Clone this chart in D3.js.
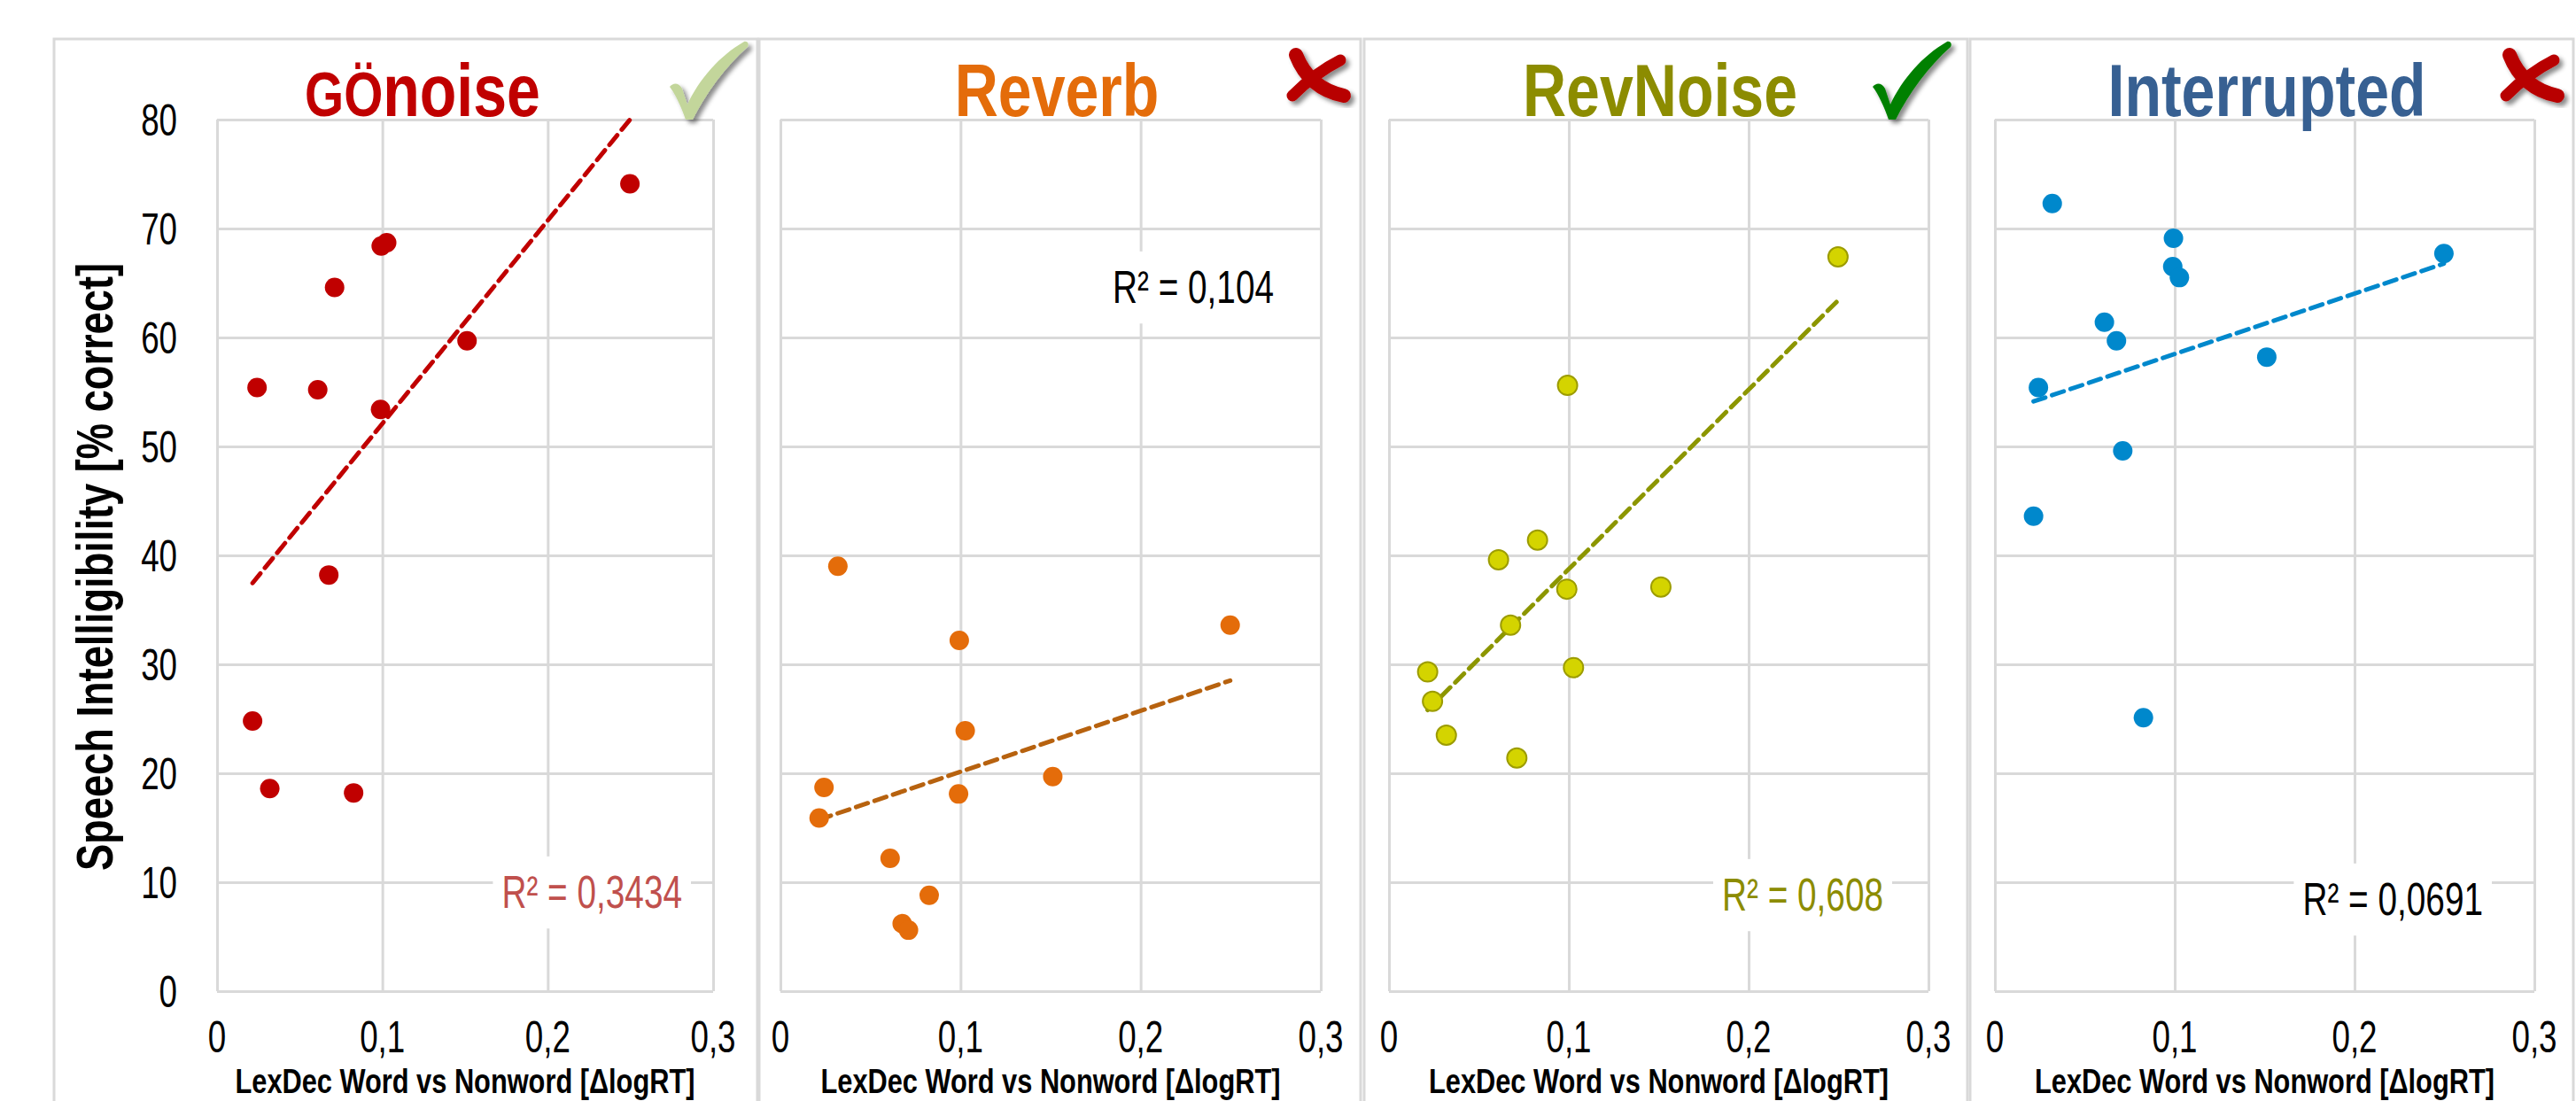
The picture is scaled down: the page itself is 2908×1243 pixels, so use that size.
<!DOCTYPE html>
<html>
<head>
<meta charset="utf-8">
<script src="https://cdn.jsdelivr.net/npm/d3@7"></script>
<style>
  body { margin: 0; background: #fff; }
  svg { display: block; }
  text { font-family: "Liberation Sans", Arial, sans-serif; }
</style>
</head>
<body>
<svg id="chart" width="2908" height="1243"></svg>
<script>
// LexDec Word vs Nonword [ΔlogRT], one value per listener (same in all panels)
var lexDec      = [0.0215, 0.0242, 0.0319, 0.0609, 0.0676, 0.0711, 0.0826, 0.0989, 0.0993, 0.1026, 0.1512, 0.2497];
// speech intelligibility [% correct] per condition, same listener order
var gonoise     = [24.8, 55.4, 18.6, 55.2, 38.2, 64.6, 18.2, 53.4, 68.4, 68.7, 59.7, 74.1];
var reverb      = [15.9, 18.7, 39.0, 12.2,  6.2,  5.6,  8.8, 18.1, 32.2, 23.9, 19.7, 33.6];
var revnoise    = [29.3, 26.6, 23.5, 39.6, 33.6, 21.4, 41.4, 36.9, 55.6, 29.7, 37.1, 67.4];
var interrupted = [43.6, 55.4, 72.3, 61.4, 59.7, 49.6, 25.1, 66.5, 69.1, 65.5, 58.2, 67.7];

var conditions = ["Gönoise", "Reverb", "RevNoise", "Interrupted"];
var seriesList = [gonoise, reverb, revnoise, interrupted];
var r2Labels   = ["R² = 0,3434", "R² = 0,104", "R² = 0,608", "R² = 0,0691"];
var verdicts   = ["yes-weak", "no", "yes", "no"];
var xTicks = [0, 0.1, 0.2, 0.3];
var yTicks = [0, 10, 20, 30, 40, 50, 60, 70, 80];
var xTitle = "LexDec Word vs Nonword [ΔlogRT]";
var yTitle = "Speech Intelligibility [% correct]";

// layout of the four panels (pixels)
var layout = [
  {box: [61, 855],    plot: [245, 805],   top: 135, bottom: 1119, titleX: 477,
   title: "#C00000", dot: "#C00000", dotStroke: "none", trend: "#C00000", r2c: "#C0504D", r2: [770, 1025], mark: [777, 135]},
  {box: [857, 1536],  plot: [881, 1491],  top: 135, bottom: 1119, titleX: 1193,
   title: "#E46C0A", dot: "#E46C0A", dotStroke: "none", trend: "#B7620F", r2c: "#000000", r2: [1438, 342], mark: [1451, 56]},
  {box: [1540, 2221], plot: [1568, 2177], top: 135, bottom: 1119, titleX: 1874,
   title: "#8C8C00", dot: "#D4D400", dotStroke: "#9C9C00", trend: "#8C9600", r2c: "#8C8C00", r2: [2126, 1028], mark: [2135, 135]},
  {box: [2224, 2905], plot: [2252, 2861], top: 135, bottom: 1119, titleX: 2559,
   title: "#376092", dot: "#0088CC", dotStroke: "none", trend: "#0088CC", r2c: "#000000", r2: [2803, 1033], mark: [2821, 56]}
];

var svg = d3.select("#chart");
var defs = svg.append("defs");
defs.append("filter").attr("id", "shadow").attr("x", "-30%").attr("y", "-30%").attr("width", "160%").attr("height", "160%")
  .append("feDropShadow").attr("dx", 4).attr("dy", 4).attr("stdDeviation", 2.5)
  .attr("flood-color", "#000").attr("flood-opacity", 0.45);

var locale = d3.formatLocale({decimal: ",", thousands: ".", grouping: [3], currency: ["", ""]});
var fmtX = locale.format("~g");

// condensed text (the source uses a narrow font)
function ctext(g, x, y, str, size, sx, anchor, weight, color, rot) {
  var t = g.append("text")
    .attr("transform", "translate(" + x + "," + y + ")" + (rot ? " rotate(" + rot + ")" : "") + " scale(" + sx + ",1)")
    .attr("text-anchor", anchor)
    .attr("font-size", size)
    .attr("font-weight", weight || "normal")
    .attr("fill", color || "#000")
    .text(str);
  return t;
}

function fitLine(xs, ys) {
  var mx = d3.mean(xs), my = d3.mean(ys);
  var sxy = d3.sum(xs, function(d, i) { return (d - mx) * (ys[i] - my); });
  var sxx = d3.sum(xs, function(d) { return (d - mx) * (d - mx); });
  var b = sxy / sxx;
  return {slope: b, icpt: my - b * mx};
}

var checkPath = "M-21,-37 C-17,-42 -11,-42 -7,-35 L-1,-17 C12,-45 35,-72 63,-88 C67,-89 69,-85 67,-82 C42,-60 20,-30 5,0 L-3,0 C-8,-14 -14,-28 -21,-37 Z";

layout.forEach(function(L, p) {
  var g = svg.append("g");
  var ys = seriesList[p];

  // panel frame
  g.append("rect").attr("x", L.box[0]).attr("y", 44)
    .attr("width", L.box[1] - L.box[0]).attr("height", 1260)
    .attr("fill", "none").attr("stroke", "#D9D9D9").attr("stroke-width", 3);

  var x = d3.scaleLinear().domain([0, 0.3]).range(L.plot);
  var y = d3.scaleLinear().domain([0, 80]).range([L.bottom, L.top]);

  // grid
  g.append("g").attr("transform", "translate(0," + L.bottom + ")")
    .call(d3.axisBottom(x).tickValues(xTicks).tickSize(-(L.bottom - L.top)).tickFormat(""))
    .call(function(a) { a.select(".domain").remove(); a.selectAll("line").attr("stroke", "#D9D9D9").attr("stroke-width", 3); });
  g.append("g").attr("transform", "translate(" + L.plot[0] + ",0)")
    .call(d3.axisLeft(y).tickValues(yTicks).tickSize(-(L.plot[1] - L.plot[0])).tickFormat(""))
    .call(function(a) { a.select(".domain").remove(); a.selectAll("line").attr("stroke", "#D9D9D9").attr("stroke-width", 3); });

  // x tick labels
  xTicks.forEach(function(v) {
    ctext(g, x(v), 1188, fmtX(v), 50, 0.735, "middle");
  });
  // y tick labels, first panel only
  if (p === 0) {
    yTicks.forEach(function(v) {
      ctext(g, 200, y(v) + 18, v, 50, 0.735, "end");
    });
    ctext(g, 127, (L.top + L.bottom) / 2 + 13, yTitle, 58, 0.78, "middle", "bold", "#000", -90);
  }

  // x axis title
  ctext(g, (L.plot[0] + L.plot[1]) / 2, 1234, xTitle, 38, 0.81, "middle", "bold");

  // title
  var tt = ctext(g, L.titleX, 131, "", 84, 0.81, "middle", "bold", L.title);
  if (conditions[p] === "Gönoise") {
    tt.append("tspan").attr("font-size", 70).text("GÖ");
    tt.append("tspan").text("noise");
  } else {
    tt.text(conditions[p]);
  }

  // R² label with white background
  var lg = g.append("g");
  var lt = ctext(lg, L.r2[0], L.r2[1], r2Labels[p], 51, 0.76, "end", "normal", L.r2c);
  var bb = lt.node().getBBox();
  lg.insert("rect", "text")
    .attr("x", L.r2[0] + bb.x * 0.76 - 10).attr("y", L.r2[1] + bb.y - 12)
    .attr("width", bb.width * 0.76 + 20).attr("height", bb.height + 24)
    .attr("fill", "#fff");

  // trend line
  var f = fitLine(lexDec, ys);
  var ext = d3.extent(lexDec);
  g.append("line")
    .attr("x1", x(ext[0])).attr("y1", y(f.icpt + f.slope * ext[0]))
    .attr("x2", x(ext[1])).attr("y2", y(f.icpt + f.slope * ext[1]))
    .attr("stroke", L.trend).attr("stroke-width", 5)
    .attr("stroke-dasharray", "14,8").attr("stroke-linecap", "round");

  // points
  g.selectAll("circle.pt").data(ys).enter().append("circle")
    .attr("class", "pt")
    .attr("cx", function(d, i) { return x(lexDec[i]); })
    .attr("cy", function(d) { return y(d); })
    .attr("r", 11)
    .attr("fill", L.dot)
    .attr("stroke", L.dotStroke)
    .attr("stroke-width", 2);

  // verdict mark
  var m = g.append("g").attr("transform", "translate(" + L.mark[0] + "," + L.mark[1] + ")")
    .attr("filter", "url(#shadow)");
  if (verdicts[p] === "no") {
    m.append("path").attr("d", "M12,6 Q27,44 66,52").attr("fill", "none")
      .attr("stroke", "#B80000").attr("stroke-width", 16).attr("stroke-linecap", "round");
    m.append("path").attr("d", "M62,12 Q34,26 8,52").attr("fill", "none")
      .attr("stroke", "#B80000").attr("stroke-width", 13).attr("stroke-linecap", "round");
  } else {
    m.append("path").attr("d", checkPath)
      .attr("fill", verdicts[p] === "yes" ? "#008000" : "#C3D69B");
  }
});
</script>
</body>
</html>
